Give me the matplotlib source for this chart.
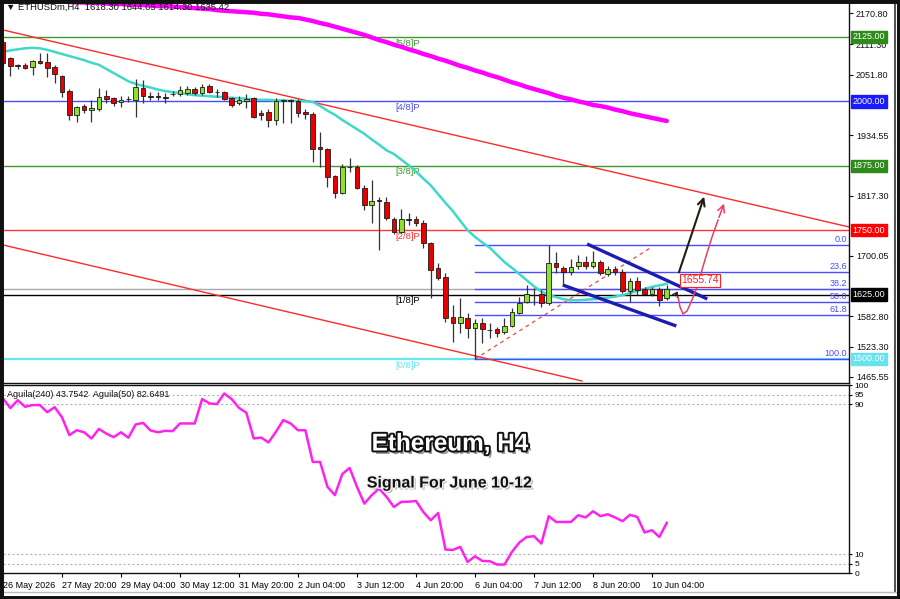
import matplotlib
matplotlib.use("Agg")
import matplotlib.pyplot as plt
import matplotlib.patheffects as pe
import matplotlib.transforms as mtransforms
from matplotlib.patches import Rectangle
from matplotlib.lines import Line2D

plt.rcParams['font.family'] = ['Liberation Sans', 'DejaVu Sans']

# ---------------- data ----------------
opens = [2115, 2084, 2070, 2070, 2067, 2078, 2076, 2067, 2050, 2020,
         1974, 1991, 1983, 1985, 2010, 2006, 1998, 2004, 2003, 2026,
         2010, 2010, 2008, 2014, 2014, 2017, 2025, 2016, 2030, 2018,
         2018, 2006, 1996, 2001, 2007, 1978, 1979, 1963, 2000, 2002,
         2001, 1980, 1976, 1911, 1907, 1855, 1822, 1873, 1873, 1832,
         1799, 1808, 1805, 1772, 1746, 1771, 1772, 1764, 1725, 1676,
         1659, 1582, 1570, 1580, 1560, 1570, 1556, 1558, 1552, 1565,
         1590, 1610, 1624, 1626, 1608, 1686, 1676, 1669, 1680, 1688,
         1681, 1688, 1665, 1675, 1669, 1632, 1651, 1636, 1626, 1636, 1618.30]
highs = [2120, 2086, 2073, 2074, 2080, 2094, 2094, 2071, 2052, 2024,
         1992, 1995, 2002, 2026, 2022, 2008, 2011, 2010, 2043, 2042,
         2018, 2019, 2016, 2020, 2029, 2030, 2028, 2033, 2033, 2025,
         2021, 2009, 2010, 2014, 2009, 1983, 1985, 2006, 2004, 2005,
         2004, 1985, 1980, 1941, 1909, 1857, 1879, 1890, 1877, 1838,
         1847, 1814, 1814, 1776, 1791, 1783, 1777, 1770, 1727, 1686,
         1666, 1605, 1618, 1589, 1578, 1579, 1570, 1562, 1579, 1599,
         1620, 1644, 1638, 1634, 1721, 1708, 1680, 1694, 1702, 1699,
         1710, 1693, 1681, 1680, 1675, 1657, 1659, 1639, 1640, 1640, 1644.05]
lows = [2068, 2049, 2063, 2063, 2051, 2072, 2047, 2036, 2009, 1964,
        1960, 1978, 1960, 1981, 1997, 1991, 1990, 1999, 1970, 1997,
        2003, 2002, 1997, 2011, 2011, 2013, 2013, 2013, 2016, 2008,
        2003, 1989, 1993, 1987, 1967, 1964, 1950, 1955, 1959, 1958,
        1970, 1965, 1882, 1873, 1834, 1813, 1820, 1863, 1830, 1789,
        1764, 1711, 1769, 1742, 1744, 1760, 1758, 1715, 1619, 1653,
        1572, 1533, 1550, 1541, 1500, 1531, 1541, 1542, 1548, 1562,
        1588, 1608, 1605, 1601, 1604, 1667, 1646, 1663, 1675, 1675,
        1677, 1663, 1662, 1663, 1628, 1610, 1624, 1624, 1622, 1603, 1614.30]
closes = [2074, 2069, 2068, 2065, 2078, 2074, 2065, 2053, 2018, 1974,
          1989, 1983, 1987, 2008, 2005, 1997, 2002, 2005, 2027, 2011,
          2010.5, 2010, 2008.5, 2014.5, 2022, 2024, 2016, 2028, 2018, 2018.5,
          2005, 1993, 2003, 2005, 1969, 1974, 1963, 2000, 2002, 2001.5,
          1978, 1976, 1907, 1907, 1853, 1822, 1873, 1873.5, 1832, 1799,
          1807, 1806, 1773, 1746, 1772, 1771.5, 1764, 1725, 1673, 1658,
          1579, 1570, 1582, 1560, 1570, 1558, 1556.5, 1550, 1565, 1591,
          1609, 1626, 1624.5, 1608, 1686, 1678, 1669, 1679, 1688, 1680,
          1688, 1667, 1675, 1669, 1632, 1651, 1634, 1626, 1636, 1615, 1635.42]

ma_fast = [2096, 2099, 2101, 2103, 2104, 2103, 2100, 2096, 2092, 2088,
           2084, 2080, 2075, 2071, 2063, 2055, 2047, 2039, 2034, 2030,
           2027, 2023, 2020, 2018, 2016, 2014, 2012, 2011, 2010, 2009,
           2008, 2007, 2006, 2005, 2004, 2003, 2003, 2002, 2002, 2001,
           2001, 2000, 1999, 1991, 1982, 1974, 1964, 1955, 1946, 1937,
           1926, 1916, 1905, 1898, 1887, 1876, 1864, 1850, 1837, 1820,
           1803, 1787, 1768, 1750, 1737, 1726, 1716, 1702, 1688, 1677,
           1665, 1653, 1641, 1631, 1624, 1620, 1616, 1614, 1614, 1615,
           1616, 1617, 1619, 1621, 1624, 1628, 1632, 1636, 1640, 1643, 1646]

ma_slow = [2205, 2203, 2201, 2199, 2197, 2196, 2195, 2194, 2194, 2193,
           2192, 2192, 2191, 2191, 2190, 2189, 2189, 2188, 2187, 2187,
           2186, 2185, 2185, 2184, 2183, 2182, 2181, 2180, 2179, 2177,
           2176, 2175, 2174, 2173, 2172, 2170, 2169, 2167, 2165, 2163,
           2162, 2159, 2156, 2152, 2149, 2145, 2141, 2137, 2133, 2129,
           2124, 2119, 2115, 2110, 2106, 2101, 2097, 2092, 2088, 2083,
           2079, 2074, 2069, 2065, 2060, 2056, 2051, 2047, 2042, 2037,
           2033, 2028, 2024, 2020, 2016, 2011, 2007, 2004, 2000, 1997,
           1993, 1991, 1988, 1984, 1981, 1977, 1974, 1971, 1968, 1965, 1962]

aguila = [93.0, 87.9, 92.1, 88.6, 89.5, 89.5, 85.7, 88.4, 83.0, 73.5,
          76.1, 75.0, 71.7, 76.8, 74.3, 72.4, 75.0, 72.1, 79.2, 80.0,
          76.0, 75.0, 75.8, 75.6, 79.7, 79.7, 79.7, 92.7, 90.4, 90.0,
          95.7, 92.7, 88.0, 85.4, 71.7, 72.2, 69.6, 75.2, 81.5, 79.7,
          76.1, 76.1, 59.2, 59.2, 45.9, 41.5, 52.7, 56.0, 45.9, 37.0,
          41.5, 45.0, 40.6, 35.2, 37.9, 38.0, 38.4, 32.5, 28.1, 32.0,
          12.5, 12.3, 13.9, 5.9, 8.9, 6.4, 6.3, 4.5, 4.5, 11.2,
          16.2, 19.2, 19.6, 15.7, 30.3, 27.2, 27.2, 27.2, 30.8, 29.6,
          32.9, 30.3, 31.3, 29.6, 27.6, 31.0, 29.9, 21.6, 22.8, 19.2, 26.7]

date_ticks = [0, 8, 16, 24, 32, 40, 48, 56, 64, 72, 80, 88]
date_labels = ['26 May 2026', '27 May 20:00', '29 May 04:00', '30 May 12:00',
               '31 May 20:00', '2 Jun 04:00', '3 Jun 12:00', '4 Jun 20:00',
               '6 Jun 04:00', '7 Jun 12:00', '8 Jun 20:00', '10 Jun 04:00']

price_ticks = [2170.80, 2111.30, 2051.80, 1934.55, 1817.30,
               1700.05, 1582.80, 1523.30, 1465.55]

murrey_levels = [2125, 2000, 1875, 1750, 1625, 1500]
murrey_labels = ['[5/8]P', '[4/8]P', '[3/8]P', '[2/8]P', '[1/8]P', '[0/8]P']
murrey_colors = ['#3e9a2c', '#4a4aff', '#3e9a2c', '#ff3434', '#000000', '#62e6f0']
box_colors = ['#2e8b1a', '#1a1aff', '#2e8b1a', '#ff0000', '#000000', '#66e2f0']

fib_high, fib_low, fib_start = 1721.0, 1500.0, 64
fib_pcts = [0.0, 23.6, 38.2, 50.0, 61.8, 100.0]
fib_diag = [(64, 1500.0), (87.7, 1715.0)]

bid_price = 1635.42
upper_trend = [(0, 2138.6), (114.7, 1756.3)]
lower_trend = [(0, 1721.3), (78.5, 1457.3)]
channel_top = [(79.2, 1723.2), (95.5, 1616.5)]
channel_bot = [(75.9, 1643.6), (91.3, 1564.0)]
black_arrow = [(91.53, 1663.0), (95.19, 1820.3)]
small_arrow = [(90.98, 1618.4), (91.66, 1636.0)]
pink_x = [91.53, 91.80, 92.20, 92.75, 93.42, 94.10, 94.78, 95.46, 96.14, 96.95, 97.90]
pink_y = [1620.3, 1600.9, 1587.4, 1593.2, 1614.5, 1639.8, 1672.8, 1705.7, 1736.8, 1769.8, 1806.7]
tag_price, tag_bar = 1652.4, 91.9

ind_levels = [95, 90, 10, 5]
ind_ticks = [100, 95, 90, 10, 5, 0]

# ---------------- layout ----------------
W, H = 900, 599
fig = plt.figure(figsize=(W / 100, H / 100), dpi=100)
fig.patch.set_facecolor('white')


def fx(px):
    return px / W


def fy(py):
    return 1 - py / H


ax = fig.add_axes([fx(3), fy(383), fx(849) - fx(3), fy(2) - fy(383)])
ax2 = fig.add_axes([fx(3), fy(573), fx(849) - fx(3), fy(385) - fy(573)])

XMAX = (849 - 3) / 7.375
for a in (ax, ax2):
    a.set_xlim(0, XMAX)
    a.spines['left'].set_visible(False)
    for s in ('right', 'bottom', 'top'):
        a.spines[s].set_color('#111111')
        a.spines[s].set_linewidth(1.0)
ax.spines['top'].set_visible(False)
ax.set_ylim(1453.4, 2192.9)
ax2.set_ylim(0, 100.2)

# ---- horizontal levels ----
for lvl, lab, col in zip(murrey_levels, murrey_labels, murrey_colors):
    lw = 1.6 if lab == '[0/8]P' else 1.0
    ax.axhline(lvl, color=col, lw=lw, zorder=1)
    ax.text(53.2, lvl - 3, lab, color=col, fontsize=6.8, ha='left', va='top', zorder=2)
ax.axhline(bid_price, color='#a8a8b0', lw=1.0, zorder=1)

# fib
rng = fib_high - fib_low
transR = mtransforms.blended_transform_factory(ax.transAxes, ax.transData)
for p in fib_pcts:
    v = fib_high - rng * p / 100.0
    ax.plot([fib_start, XMAX], [v, v], color='#4b4bff', lw=1.0, zorder=1.5)
    ax.text(0.9975, v + 2, f'{p:.1f}', transform=transR, color='#4b4bff', fontsize=6.5,
            ha='right', va='bottom', zorder=2)
ax.plot([fib_diag[0][0], fib_diag[1][0]], [fib_diag[0][1], fib_diag[1][1]],
        color='#ff4040', lw=0.9, ls=(0, (3, 3)), zorder=1.5)

# trend lines
for seg in (upper_trend, lower_trend):
    ax.plot([seg[0][0], seg[1][0]], [seg[0][1], seg[1][1]], color='#ff2a2a', lw=1.0, zorder=1.6)

# moving averages
idx = list(range(len(opens)))
ax.plot(idx, ma_slow, color='#ff00ff', lw=3.2, zorder=2.5, solid_capstyle='round')
ax.plot(idx, ma_fast, color='#40d8c8', lw=1.8, zorder=2.5)

# candles
for i, (o, h, l, c) in enumerate(zip(opens, highs, lows, closes)):
    ax.vlines(i, l, h, color='#333333', lw=0.9, zorder=3)
bottoms, heights, colors = [], [], []
for o, c in zip(opens, closes):
    d = c - o
    if abs(d) < 1.0:
        bottoms.append(min(o, c) - 0.6)
        heights.append(1.2)
        colors.append('#222222')
    else:
        bottoms.append(min(o, c))
        heights.append(abs(d))
        colors.append('#8ee02a' if d > 0 else '#e80000')
ax.bar(idx, heights, bottom=bottoms, width=0.62, color=colors,
       edgecolor='#1a1a1a', linewidth=0.6, zorder=4)

# channel
for seg in (channel_top, channel_bot):
    ax.plot([seg[0][0], seg[1][0]], [seg[0][1], seg[1][1]], color='#1c1cb0', lw=2.4,
            zorder=5, solid_capstyle='butt')

# arrows
ax.annotate('', xy=black_arrow[1], xytext=black_arrow[0],
            arrowprops=dict(arrowstyle='->,head_length=0.5,head_width=0.25', color='#1e1e14', lw=1.5),
            zorder=6)
ax.annotate('', xy=small_arrow[1], xytext=small_arrow[0],
            arrowprops=dict(arrowstyle='->,head_length=0.3,head_width=0.2', color='#1e1e14', lw=1.0),
            zorder=6)
ax.plot(pink_x[:-1], pink_y[:-1], color='#e8405c', lw=1.1, zorder=6)
ax.annotate('', xy=(pink_x[-1], pink_y[-1]), xytext=(pink_x[-2], pink_y[-2]),
            arrowprops=dict(arrowstyle='->,head_length=0.5,head_width=0.25', color='#e8405c', lw=1.1),
            zorder=6)
ax.text(tag_bar, tag_price, '1655.74', color='#ff2020', fontsize=7.5, ha='left', va='center',
        bbox=dict(boxstyle='square,pad=0.12', fc='white', ec='#ff2020', lw=0.8), zorder=7)

# right price axis
ax.set_xticks([])
ax.yaxis.tick_right()
ax.set_yticks(price_ticks)
ax.set_yticklabels([f'{v:.2f}' for v in price_ticks])
ax.tick_params(axis='y', labelsize=6.5, length=3, pad=2, colors='#111111')
for v, c in zip(murrey_levels, box_colors):
    ax.text(1.0045, v, f'{v:.2f}', transform=transR, ha='left', va='center', fontsize=6.5,
            color='white', bbox=dict(boxstyle='square,pad=0.18', fc=c, ec=c), zorder=20, clip_on=False)

# ---- indicator panel ----
for v in ind_levels:
    ax2.axhline(v, color='#b4b4b4', lw=0.8, ls=(0, (2, 2)), zorder=1)
ax2.plot(idx, aguila, color='#ff22ee', lw=1.8, zorder=3)
ax2.yaxis.tick_right()
ax2.set_yticks(ind_ticks)
ax2.set_yticklabels([str(v) for v in ind_ticks])
ax2.tick_params(axis='y', labelsize=6, length=2, pad=2)
ax2.set_xticks(date_ticks)
ax2.set_xticklabels(date_labels)
for lbl in ax2.get_xticklabels():
    lbl.set_horizontalalignment('left')
ax2.tick_params(axis='x', labelsize=6.5, length=3, pad=3)
ax2.text(0.005, 0.975, 'Aguila(240) 43.7542  Aguila(50) 82.6491', transform=ax2.transAxes,
         fontsize=6.5, ha='left', va='top', color='#111111')

# header
fig.text(fx(6), fy(7), '\u25bc ETHUSDm,H4  1618.30 1644.05 1614.30 1635.42', fontsize=6.8,
         ha='left', va='center', color='#111111', family=['Liberation Sans', 'DejaVu Sans'])

# overlay titles
fig.text(fx(450), fy(444), 'Ethereum, H4', fontsize=17.5, fontweight='bold', color='white',
         ha='center', va='center', zorder=30,
         path_effects=[pe.SimplePatchShadow(offset=(2, -2.5), shadow_rgbFace='#555555', alpha=0.6),
                       pe.Stroke(linewidth=2.8, foreground='#111111'), pe.Normal()])
fig.text(fx(450), fy(483), 'Signal For June 10-12', fontsize=11.5, fontweight='bold', color='#111111',
         ha='center', va='center', zorder=30,
         path_effects=[pe.SimplePatchShadow(offset=(1.5, -1.5), shadow_rgbFace='#888888', alpha=0.6),
                       pe.Stroke(linewidth=2, foreground='#f0f0f0'), pe.Normal()])

# window frame
fig.add_artist(Line2D([fx(895), fx(895)], [fy(0), fy(592)], color='#555555', lw=1.5))
fig.add_artist(Line2D([fx(0), fx(900)], [fy(592), fy(592)], color='#bbbbbb', lw=1.0))
fig.patches.append(Rectangle((0, 0), 1, 1, transform=fig.transFigure, fill=False,
                             ec='#111111', lw=5, zorder=50))

fig.savefig('out.png', dpi=100, facecolor='white')
